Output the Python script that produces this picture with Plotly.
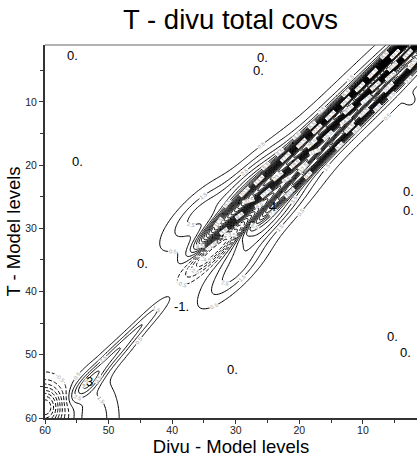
import numpy as np
import plotly.graph_objects as go

# ---------------- data ----------------
# model levels (grid of the covariance field)
levels = np.arange(1, 60.01, 0.25)

# field components along the diagonal, in (u=(x+y)/2, v=x-y) coordinates
band_u   = [1.0, 6.0, 12.0, 18.0, 24.0, 29.0, 32.5,
            3.0, 9.0, 15.0, 21.0, 26.0,
            3.0, 10.0, 17.0, 24.0,
            26.0, 32.0,
            27.0, 33.5,
            31.5, 35.0,
            43.5, 47.0, 50.5, 54.0]
band_v   = [1.5, 1.6, 1.8, 2.0, 2.4, 2.9, 3.3,
            -1.5, -1.6, -1.8, -2.0, -2.2,
            0.5, 0.5, 1.0, 0.5,
            5.5, 8.5,
            -4.0, -6.8,
            -0.3, 0.4,
            -0.3, -0.6, -1.0, -1.3]
band_amp = [30.0, 24.0, 20.0, 17.0, 15.0, 9.0, 4.0,
            14.0, 12.0, 10.0, 9.0, 4.0,
            3.5, 3.5, 3.5, 2.5,
            3.5, 2.5,
            4.0, 2.8,
            -5.5, -2.5,
            1.0, 2.0, 2.4, 3.2]
band_su  = [3.5, 3.5, 3.5, 3.5, 3.5, 3.0, 2.0,
            3.5, 3.5, 3.5, 3.5, 3.0,
            5.0, 5.0, 5.0, 5.0,
            4.0, 3.0,
            4.0, 3.0,
            3.0, 2.0,
            2.0, 3.0, 2.5, 1.8]
band_sv  = [1.1, 1.1, 1.1, 1.2, 1.2, 1.2, 1.0,
            0.8, 0.8, 0.8, 0.8, 0.8,
            3.0, 3.0, 3.0, 3.3,
            2.0, 2.0,
            1.8, 1.8,
            1.3, 1.1,
            0.8, 0.9, 1.2, 1.2]

# field components in (x, y) coordinates (bottom-left corner, small features)
spot_x   = [52.3, 60.0, 2.6]
spot_y   = [60.0, 58.3, 9.7]
spot_amp = [2.2, -8.5, 0.9]
spot_sx  = [2.3, 1.9, 0.6]
spot_sy  = [4.0, 2.35, 0.6]

# extreme-value labels printed on the chart
mark_x    = [55.7, 25.8, 26.4, 54.9, 2.8, 2.8, 44.7, 38.5, 5.3, 3.3, 30.5, 53.0, 24.2]
mark_y    = [2.7, 2.9, 5.1, 19.5, 24.2, 27.2, 35.6, 42.4, 47.1, 49.7, 52.3, 54.2, 26.5]
mark_text = ["0.", "0.", "0.", "0.", "0.", "0.", "0.", "-1.", "0.", "0.", "0.", "3", "4"]

tick_vals = [10, 20, 30, 40, 50, 60]

# ---------------- field ----------------
X, Y = np.meshgrid(levels, levels)
U = (X + Y) / 2.0
V = X - Y
Z = np.zeros_like(X)
for u0, v0, a, su, sv in zip(band_u, band_v, band_amp, band_su, band_sv):
    Z += a * np.exp(-((U - u0) ** 2) / (2 * su ** 2) - ((V - v0) ** 2) / (2 * sv ** 2))
for x0, y0, a, sx, sy in zip(spot_x, spot_y, spot_amp, spot_sx, spot_sy):
    Z += a * np.exp(-((X - x0) ** 2) / (2 * sx ** 2) - ((Y - y0) ** 2) / (2 * sy ** 2))

FONT = "Liberation Sans, Arial"
label_font = dict(family=FONT, size=5.5, color="#999")

fig = go.Figure()
# positive contours, solid, labelled
fig.add_trace(go.Contour(
    x=levels, y=levels, z=Z,
    contours=dict(coloring="none", start=0.5, end=60.5, size=1.0,
                  showlabels=True, labelfont=label_font, labelformat=".1f"),
    line=dict(color="black", width=1),
    showscale=False, hoverinfo="skip",
))
# negative contours, dashed, labelled
fig.add_trace(go.Contour(
    x=levels, y=levels, z=Z,
    contours=dict(coloring="none", start=-20.5, end=-0.5, size=1.0,
                  showlabels=True, labelfont=label_font, labelformat=".1f"),
    line=dict(color="black", width=1, dash="4px,2px"),
    showscale=False, hoverinfo="skip",
))

for xv, yv, t in zip(mark_x, mark_y, mark_text):
    fig.add_annotation(x=xv, y=yv, text=t, showarrow=False,
                       font=dict(family=FONT, size=13, color="black"))

fig.add_shape(type="line", xref="paper", yref="paper", x0=0, x1=1, y0=1, y1=1,
              line=dict(color="#666", width=1))

axis_common = dict(
    showgrid=False, zeroline=False, showline=True, linecolor="#333", linewidth=2,
    ticks="outside", ticklen=4, tickwidth=1, tickcolor="#333",
    tickfont=dict(family=FONT, size=10.5, color="#222"),
    tickvals=tick_vals,
    minor=dict(ticks="outside", ticklen=3, tickcolor="#333", dtick=5, tick0=5, showgrid=False),
)

fig.update_layout(
    width=417, height=457,
    margin=dict(l=45, r=0, t=45, b=39),
    paper_bgcolor="white", plot_bgcolor="white",
    showlegend=False,
    title=dict(text="T - divu total covs", x=0.553, xanchor="center", y=0.958, yanchor="middle",
               font=dict(family=FONT, size=27.5, color="black")),
    xaxis=dict(range=[60, 1.5], ticklabelstandoff=-3,
               title=dict(text="Divu - Model levels", standoff=0,
                          font=dict(family=FONT, size=18.5, color="black")), **axis_common),
    yaxis=dict(range=[60, 1], title=dict(text="T - Model levels", standoff=0,
               font=dict(family=FONT, size=18.5, color="black")), **axis_common),
)

fig.write_html("out.html")
